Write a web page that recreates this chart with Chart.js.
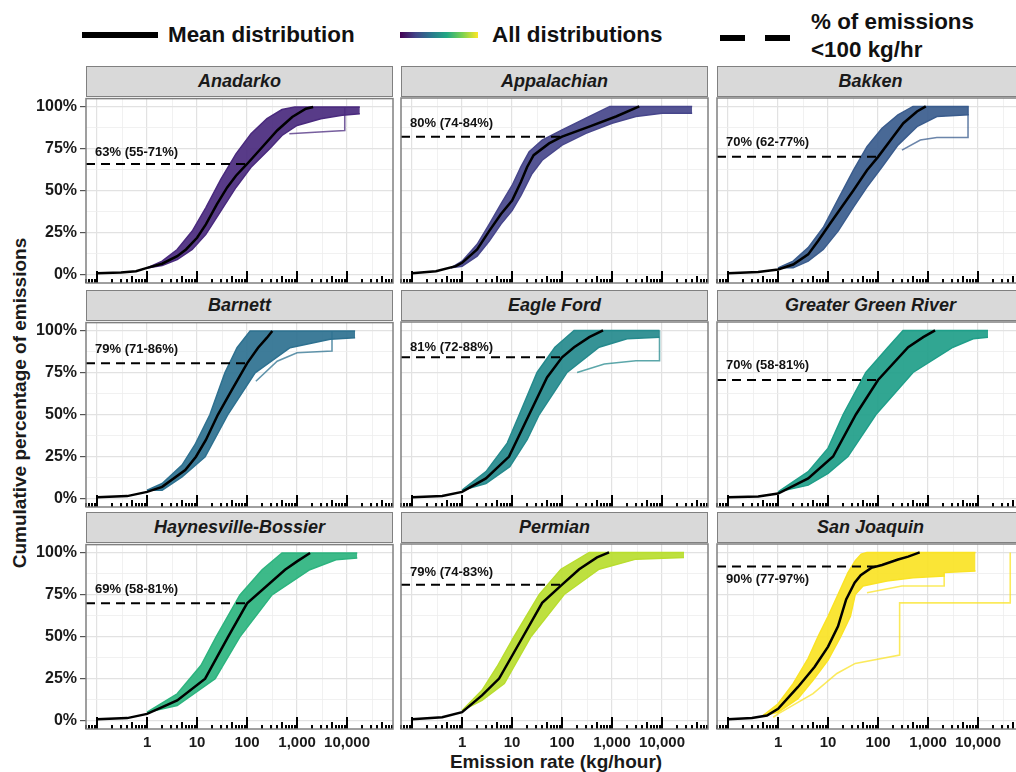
<!DOCTYPE html>
<html>
<head>
<meta charset="utf-8">
<script src="https://cdn.jsdelivr.net/npm/chart.js@4.4.0/dist/chart.umd.min.js"></script>
<style>
  body { margin: 0; width: 1016px; height: 772px; overflow: hidden; background: #fff;
         position: relative; font-family: "Liberation Sans", Arial, sans-serif; color: #111; }
  .abs { position: absolute; }
  .legend-text { font-size: 22.4px; font-weight: bold; line-height: 24px; white-space: nowrap; }
  .strip { position: absolute; box-sizing: border-box; height: 31px; background: #d9d9d9;
           border: 1.5px solid #808080; font-size: 18px; font-weight: bold; font-style: italic;
           text-align: center; line-height: 28px; color: #1a1a1a; }
  canvas { position: absolute; }
  .axis-title { position: absolute; font-size: 19px; font-weight: bold; white-space: nowrap; color: #1a1a1a; }
</style>
</head>
<body>
<div class="abs" style="left:82px;top:32px;width:76px;height:6px;background:#000"></div>
<div class="abs legend-text" style="left:168px;top:23px">Mean distribution</div>
<div class="abs" style="left:400px;top:32px;width:78px;height:6px;background:linear-gradient(to right,#440154,#414487,#2a788e,#22a884,#7ad151,#fde725)"></div>
<div class="abs legend-text" style="left:492px;top:23px">All distributions</div>
<div class="abs" style="left:720px;top:35px;width:25px;height:6px;background:#000"></div>
<div class="abs" style="left:765px;top:35px;width:25px;height:6px;background:#000"></div>
<div class="abs legend-text" style="left:811px;top:10px">% of emissions</div>
<div class="abs legend-text" style="left:811px;top:38px">&lt;100 kg/hr</div>
<div class="axis-title" style="left:556px;top:751px;transform:translateX(-50%)">Emission rate (kg/hour)</div>
<div class="axis-title" style="left:20px;top:403px;transform:translate(-50%,-50%) rotate(-90deg)">Cumulative percentage of emissions</div>

<script>
// facet order, colours and annotation text
const BASINS = ["Anadarko", "Appalachian", "Bakken", "Barnett", "Eagle Ford",
  "Greater Green River", "Haynesville-Bossier", "Permian", "San Joaquin"];
const BASIN_COLORS = ["#4a2a7e", "#47468b", "#3a5c8d", "#2e7190", "#258a8d",
  "#1f9e89", "#2db47f", "#b9dd2f", "#fae325"];
const PCT_LABELS = ["63% (55-71%)", "80% (74-84%)", "70% (62-77%)", "79% (71-86%)", "81% (72-88%)",
  "70% (58-81%)", "69% (58-81%)", "79% (74-83%)", "90% (77-97%)"];
const DASH_Y = [66, 82, 70, 80.7, 84, 70.5, 70, 80.8, 91.6];
const LABEL_Y = [73, 90, 78.5, 89, 90, 79, 78, 88, 84];

const X_MIN = 0.06, X_MAX = 83000;
const X_LABELS = [1, 10, 100, 1000, 10000];
const X_GRID = [0.1, 0.3162, 1, 3.162, 10, 31.62, 100, 316.2, 1000, 3162, 10000, 31623];
const Y_GRID = [0, 12.5, 25, 37.5, 50, 62.5, 75, 87.5, 100];

// [emission rate kg/h, cumulative %]
const anadarkoMean = [[0.1,0.8],[0.3,1.2],[0.6,2],[1,4],[2,6.5],[4,11],[6,15],[10,22],[15,30],[25,42],[40,52],[60,59],[100,66],[200,76],[400,86],[800,94],[1500,99],[2100,100]];
const anadarkoUpper = [[1,4],[2,8],[4,15],[8,26],[15,40],[30,57],[60,72],[120,84],[250,93],[500,98.5],[900,100],[18000,100]];
const anadarkoLower = [[1,4],[2,5.5],[4,9],[8,15],[15,24],[30,38],[60,52],[120,64],[280,75],[500,83],[1000,89],[3000,93],[8000,95],[18000,96]];
const anadarkoExtra = [[[700,84],[5000,85.5],[9000,86],[9000,100]]];

const appalachianMean = [[0.1,0.8],[0.3,2],[0.75,5],[1,7],[2,15],[3.5,26],[6,36],[10,44],[15,55],[20,64],[27,71],[55,78],[100,82],[350,88],[1200,94],[3500,100]];
const appalachianUpper = [[0.6,4],[1,8],[2,18],[3.5,30],[6,42],[10,53],[15,64],[22,73],[40,80],[100,86],[300,93],[900,100],[40000,100]];
const appalachianLower = [[0.6,4],[1,5],[2,11],[3.5,20],[6,30],[10,38],[15,47],[25,60],[40,68],[100,77],[300,84],[1000,90],[3000,94],[10000,96],[40000,96]];
const appalachianExtra = [];

const bakkenMean = [[0.1,0.8],[0.4,1.5],[1,3],[2,6],[4,12],[6.3,20],[12,32],[32,50],[60,62],[100,70],[200,82],[320,90],[600,97],[900,100]];
const bakkenUpper = [[1,4],[2,8],[4,16],[8,28],[16,45],[32,62],[60,76],[120,87],[250,95],[500,100],[6500,100]];
const bakkenLower = [[1,4],[2,4],[4,8],[8,15],[16,26],[32,40],[60,52],[120,64],[250,77],[600,88],[1500,94],[6500,95]];
const bakkenExtra = [[[300,74],[700,80],[1500,81.5],[6300,81.5],[6300,100]]];

const barnettMean = [[0.1,0.8],[0.4,1.5],[1,4],[2,7],[5.8,17],[9.5,25],[15,35],[26,50],[50,65],[100,80.7],[166,90],[250,96],[320,100]];
const barnettUpper = [[1,5],[2,9],[5,20],[9,32],[18,50],[36,75],[63,90],[115,100],[14500,100]];
const barnettLower = [[1,5],[2,5],[5,13],[14.5,25],[41,50],[145,75],[725,90],[4600,95],[14500,96]];
const barnettExtra = [[[150,70],[400,82],[1000,87],[5000,88],[5000,100]]];

const eagleFordMean = [[0.1,0.8],[0.4,1.5],[1,4],[3,12],[8.7,25],[22,50],[50,72],[100,84],[174,90],[350,96],[660,100]];
const eagleFordUpper = [[1,5],[3,16],[8,33],[14,50],[31.6,75],[72,90],[174,100],[8900,100]];
const eagleFordLower = [[1,5],[3,9],[9,19],[20,35],[35,50],[126,75],[550,90],[2000,95],[8900,96]];
const eagleFordExtra = [[[200,75],[700,80],[3000,82],[8900,82],[8900,100]]];

const greenRiverMean = [[0.1,0.8],[0.4,1.2],[1,3],[4,12],[12.6,25],[36,50],[100,70.5],[400,90],[800,96],[1380,100]];
const greenRiverUpper = [[1,4],[4,16],[10,30],[20,50],[57,75],[158,90],[316,100],[15800,100]];
const greenRiverLower = [[1,4],[4,8],[10,15],[25,25],[91,50],[500,75],[3160,90],[8000,95],[15800,96]];
const greenRiverExtra = [];

const haynesvilleMean = [[0.1,0.8],[0.4,1.5],[1,4],[4,12],[14.5,25],[41.7,50],[100,70],[575,90],[1000,95],[1820,100]];
const haynesvilleUpper = [[1,5],[4,16],[12,33],[24,50],[72,75],[200,90],[500,100],[16000,100]];
const haynesvilleLower = [[1,5],[4,9],[23,25],[72,50],[316,75],[1800,90],[6000,96],[16000,97]];
const haynesvilleExtra = [];

const permianMean = [[0.1,0.8],[0.4,2],[1,5],[2.5,15],[5.5,25],[16.6,50],[40,70],[100,80.8],[220,90],[500,97],[870,100]];
const permianUpper = [[1,6],[2.5,18],[5,32],[11,50],[35,75],[95,90],[350,100],[27500,100]];
const permianLower = [[1,6],[2.5,12],[7,22],[24,50],[110,75],[550,90],[3000,96],[27500,97]];
const permianExtra = [];

const sanJoaquinMean = [[0.1,0.8],[0.3,1.5],[0.6,3],[1,7],[2.5,20],[5.4,32],[10,44],[15.8,56],[23,72],[34,82],[45,86.5],[73,90.8],[120,92.5],[251,95.8],[400,97.5],[680,100]];
const sanJoaquinUpper = [[0.5,3],[1,10],[2,22],[4,37],[6.3,50],[10,62],[15.8,75],[25,88],[35,95],[46,99],[60,100],[8900,100]];
const sanJoaquinLower = [[0.5,3],[1,5],[2.5,13],[5,24],[10,36],[18,50],[28,62],[35,75],[50,80],[150,83],[500,85],[2100,86],[2100,88],[8900,89]];
const sanJoaquinExtra = [
  [[0.8,2],[1,4],[5,16],[15,28],[35,34],[270,39],[270,70],[44000,70],[44000,100]],
  [[60,76],[300,80],[2100,80],[2100,86]]
];

const MEANS = [anadarkoMean, appalachianMean, bakkenMean, barnettMean, eagleFordMean, greenRiverMean, haynesvilleMean, permianMean, sanJoaquinMean];
const UPPERS = [anadarkoUpper, appalachianUpper, bakkenUpper, barnettUpper, eagleFordUpper, greenRiverUpper, haynesvilleUpper, permianUpper, sanJoaquinUpper];
const LOWERS = [anadarkoLower, appalachianLower, bakkenLower, barnettLower, eagleFordLower, greenRiverLower, haynesvilleLower, permianLower, sanJoaquinLower];
const EXTRAS = [anadarkoExtra, appalachianExtra, bakkenExtra, barnettExtra, eagleFordExtra, greenRiverExtra, haynesvilleExtra, permianExtra, sanJoaquinExtra];

// panel placement (plot area), px
const PANEL_LEFT = [86, 401, 717];
const PANEL_TOP = [98, 322, 544];
const PANEL_W = 307, PANEL_H = 185;
const AXIS_W = 86, AXIS_H = 45, PAD_TOP = 12, PAD_RIGHT = 10;
const FONT = '"Liberation Sans", Arial, sans-serif';

function isMajorX(v) { return Math.abs(Math.log10(v) - Math.round(Math.log10(v))) < 1e-6; }

// log ticks along the bottom of each panel (annotation_logticks look)
const logTicks = {
  id: "logTicks",
  afterDatasetsDraw(chart) {
    const { ctx, chartArea, scales } = chart;
    ctx.save();
    ctx.strokeStyle = "#000";
    ctx.lineWidth = 2;
    for (let e = -2; e <= 4; e++) {
      for (let k = 1; k <= 9; k++) {
        const v = k * Math.pow(10, e);
        if (v < X_MIN || v > X_MAX) continue;
        const x = Math.round(scales.x.getPixelForValue(v));
        const len = k === 1 ? 12 : (k === 5 ? 7 : 4);
        ctx.beginPath();
        ctx.moveTo(x, chartArea.bottom);
        ctx.lineTo(x, chartArea.bottom - len);
        ctx.stroke();
      }
    }
    ctx.restore();
  }
};

const panelDecor = {
  id: "panelDecor",
  afterDatasetsDraw(chart, args, opts) {
    const { ctx, chartArea, scales } = chart;
    ctx.save();
    ctx.font = "bold 13px " + FONT;
    ctx.fillStyle = "#111";
    ctx.textBaseline = "middle";
    ctx.fillText(opts.label, chartArea.left + 9, scales.y.getPixelForValue(opts.labelY));
    ctx.restore();
  },
  afterDraw(chart) {
    const { ctx, chartArea } = chart;
    ctx.save();
    ctx.strokeStyle = "#808080";
    ctx.lineWidth = 1.5;
    ctx.strokeRect(chartArea.left, chartArea.top, chartArea.right - chartArea.left, chartArea.bottom - chartArea.top);
    ctx.restore();
  }
};

function withAlpha(hex, a) {
  const n = parseInt(hex.slice(1), 16);
  return "rgba(" + (n >> 16) + "," + ((n >> 8) & 255) + "," + (n & 255) + "," + a + ")";
}

BASINS.forEach(function (name, i) {
  const col = i % 3, row = Math.floor(i / 3);
  const left = PANEL_LEFT[col], top = PANEL_TOP[row];
  const color = BASIN_COLORS[i];

  const strip = document.createElement("div");
  strip.className = "strip";
  strip.style.left = left + "px";
  strip.style.top = (top - 32) + "px";
  strip.style.width = PANEL_W + "px";
  strip.textContent = name;
  document.body.appendChild(strip);

  const canvas = document.createElement("canvas");
  canvas.width = AXIS_W + PANEL_W + PAD_RIGHT;
  canvas.height = PAD_TOP + PANEL_H + AXIS_H;
  canvas.style.left = (left - AXIS_W) + "px";
  canvas.style.top = (top - PAD_TOP) + "px";
  document.body.appendChild(canvas);

  const line = { pointRadius: 0, tension: 0, fill: false };
  const datasets = [
    Object.assign({ data: MEANS[i], borderColor: "#000", borderWidth: 2.5, order: 0 }, line),
    Object.assign({ data: [[X_MIN, DASH_Y[i]], [100, DASH_Y[i]]], borderColor: "#000", borderWidth: 2,
      borderDash: [9, 6], order: 1 }, line),
  ];
  EXTRAS[i].forEach(function (pts) {
    datasets.push(Object.assign({ data: pts, borderColor: withAlpha(color, 0.75), borderWidth: 1.6, order: 2 }, line));
  });
  datasets.push(Object.assign({ data: UPPERS[i], borderColor: color, borderWidth: 1.5, order: 3 }, line));
  datasets.push(Object.assign({}, line, { data: LOWERS[i], borderColor: color, borderWidth: 1.5, order: 3,
    fill: "-1", backgroundColor: withAlpha(color, 0.92) }));

  new Chart(canvas, {
    type: "line",
    data: { datasets: datasets },
    options: {
      responsive: false,
      animation: false,
      events: [],
      layout: { padding: { top: PAD_TOP, right: PAD_RIGHT, left: 0, bottom: 0 } },
      plugins: {
        legend: { display: false },
        tooltip: { enabled: false },
        panelDecor: { label: PCT_LABELS[i], labelY: LABEL_Y[i] },
      },
      scales: {
        x: {
          type: "logarithmic",
          min: X_MIN,
          max: X_MAX,
          afterBuildTicks: function (axis) { axis.ticks = X_GRID.map(function (v) { return { value: v }; }); },
          afterFit: function (axis) { axis.height = AXIS_H; },
          border: { display: false },
          grid: {
            drawTicks: false,
            color: function (c) { return c.tick && isMajorX(c.tick.value) ? "#e2e2e2" : "#eeeeee"; },
            lineWidth: function (c) { return c.tick && isMajorX(c.tick.value) ? 1.2 : 0.8; },
          },
          ticks: {
            display: row === 2,
            autoSkip: false,
            maxRotation: 0,
            padding: 5,
            color: "#1a1a1a",
            font: { family: FONT, size: 15, weight: "bold" },
            callback: function (v) { return X_LABELS.indexOf(v) >= 0 ? v.toLocaleString("en-US") : ""; },
          },
        },
        y: {
          min: -5,
          max: 105,
          afterBuildTicks: function (axis) { axis.ticks = Y_GRID.map(function (v) { return { value: v }; }); },
          afterFit: function (axis) { axis.width = AXIS_W; },
          border: { display: false },
          grid: {
            drawTicks: col === 0,
            tickLength: 6,
            tickColor: function (c) { return c.tick && c.tick.value % 25 === 0 ? "#555" : "rgba(0,0,0,0)"; },
            color: function (c) { return c.tick && c.tick.value % 25 === 0 ? "#e2e2e2" : "#eeeeee"; },
            lineWidth: function (c) { return c.tick && c.tick.value % 25 === 0 ? 1.2 : 0.8; },
          },
          ticks: {
            display: col === 0,
            padding: 3,
            color: "#1a1a1a",
            font: { family: FONT, size: 16, weight: "bold" },
            callback: function (v) { return v % 25 === 0 ? v + "%" : ""; },
          },
        },
      },
    },
    plugins: [logTicks, panelDecor],
  });
});
</script>
</body>
</html>
